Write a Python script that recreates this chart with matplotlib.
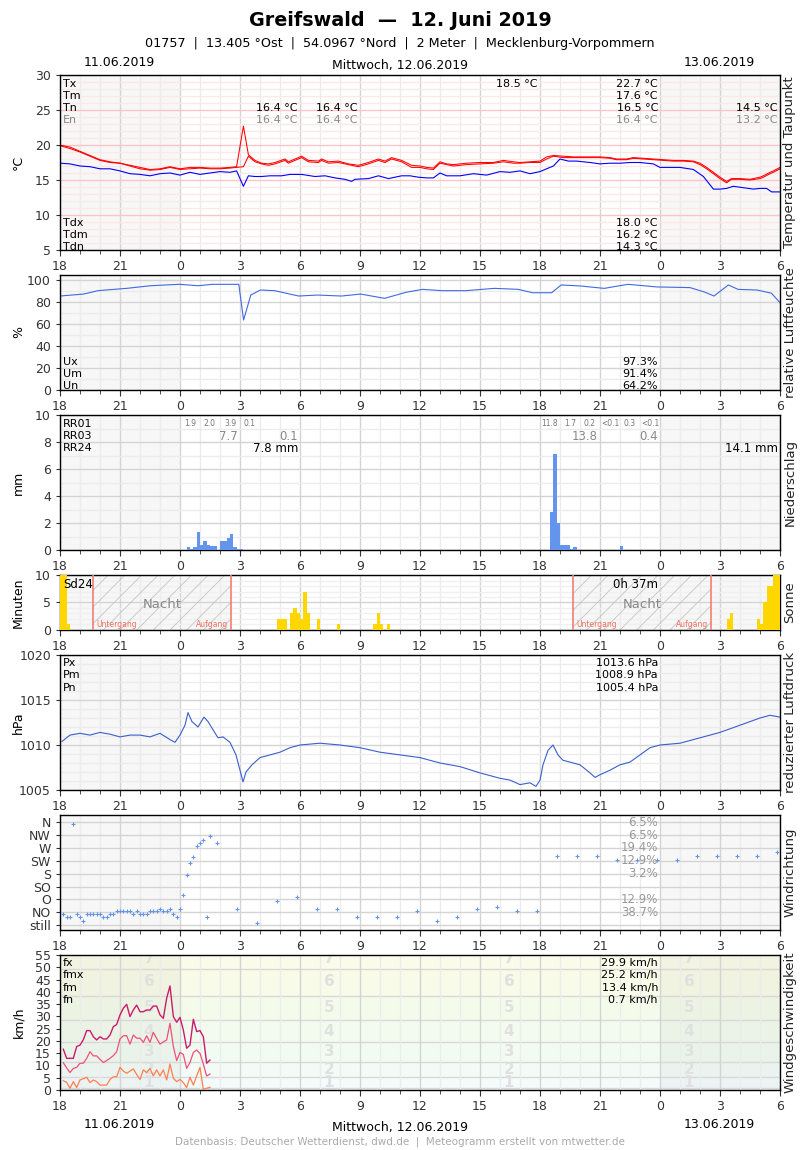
import matplotlib
matplotlib.use("Agg")
import matplotlib.pyplot as plt
import numpy as np

plt.rcParams['font.family'] = ['DejaVu Sans']
plt.rcParams['hatch.linewidth'] = 0.6
plt.rcParams['hatch.color'] = '#c4c4c4'

# x values: hours (or minutes) since 11.06.2019 18:00 UTC
hour_labels = ['18', '21', '0', '3', '6', '9', '12', '15', '18', '21', '0', '3', '6']

# temperature (two red curves) and dew point
t_hours = [0.0, 0.5, 1.0, 1.5, 2.0, 2.5, 3.0, 3.5, 4.0, 4.5, 5.0, 5.5, 6.0, 6.5, 7.0, 7.5, 8.0, 8.5, 8.83,
           9.17, 9.42, 9.75, 10.08, 10.42, 10.75, 11.25, 11.42, 11.75, 12.08, 12.42, 12.92, 13.08, 13.42,
           13.92, 14.42, 14.92, 15.42, 15.92, 16.25, 16.58, 17.08, 17.58, 18.0, 18.33, 18.67, 19.0, 19.33,
           19.67, 20.33, 21.0, 21.67, 22.17, 22.67, 23.0, 23.5, 24.0, 24.33, 24.67, 25.17, 25.67, 26.0,
           26.5, 27.0, 27.5, 27.83, 28.33, 28.67, 29.17, 29.67, 30.17, 30.67, 31.17, 31.67, 32.0, 32.33,
           32.67, 33.0, 33.33, 33.58, 34.0, 34.5, 35.0, 35.17, 35.5, 35.67, 36.0]
temp = [19.9, 19.5, 19.0, 18.4, 17.8, 17.5, 17.4, 17.0, 16.6, 16.4, 16.5, 16.8, 16.5, 16.6, 16.7, 16.6,
        16.6, 16.7, 16.8, 16.9, 18.4, 17.6, 17.3, 17.1, 17.3, 17.8, 17.4, 17.8, 18.2, 17.6, 17.5, 17.8,
        17.4, 17.5, 17.2, 16.9, 17.3, 17.8, 17.5, 18.0, 17.6, 16.8, 16.8, 16.6, 16.5, 17.4, 17.2, 17.0,
        17.2, 17.3, 17.4, 17.6, 17.4, 17.4, 17.5, 17.5, 18.0, 18.4, 18.2, 18.2, 18.2, 18.2, 18.2, 18.1,
        17.9, 17.9, 18.1, 18.0, 17.9, 17.8, 17.7, 17.7, 17.6, 17.2, 16.6, 15.9, 15.2, 14.6, 15.1, 15.1,
        15.0, 15.2, 15.4, 15.9, 16.1, 16.6]
temp_max = [20.0, 19.7, 19.1, 18.5, 17.9, 17.6, 17.4, 17.1, 16.8, 16.5, 16.6, 16.9, 16.6, 16.8, 16.8,
            16.7, 16.7, 16.8, 16.9, 22.7, 18.6, 17.8, 17.4, 17.3, 17.5, 18.0, 17.6, 18.0, 18.4, 17.8,
            17.7, 18.0, 17.6, 17.7, 17.3, 17.1, 17.5, 18.0, 17.7, 18.2, 17.8, 17.1, 17.0, 16.8, 16.7,
            17.6, 17.3, 17.2, 17.4, 17.5, 17.5, 17.8, 17.6, 17.5, 17.6, 17.7, 18.3, 18.5, 18.4, 18.3,
            18.3, 18.3, 18.3, 18.2, 18.0, 18.0, 18.2, 18.1, 18.0, 17.9, 17.8, 17.8, 17.7, 17.4, 16.8,
            16.1, 15.4, 14.8, 15.2, 15.2, 15.1, 15.4, 15.6, 16.1, 16.3, 16.8]
td_hours = [0.0, 0.5, 1.0, 1.5, 2.0, 2.5, 3.0, 3.5, 4.0, 4.5, 5.0, 5.5, 6.0, 6.5, 7.0, 7.5, 8.0, 8.5,
            8.83, 9.17, 9.42, 9.75, 10.08, 10.5, 11.08, 11.5, 12.08, 12.75, 13.25, 13.75, 14.25, 14.58,
            14.75, 15.42, 15.92, 16.42, 17.08, 17.5, 17.92, 18.33, 18.67, 19.0, 19.33, 20.0, 20.67,
            21.33, 22.0, 22.5, 23.0, 23.5, 24.0, 24.33, 24.67, 25.0, 25.42, 25.83, 26.5, 27.0, 27.5,
            28.0, 28.5, 29.0, 29.67, 30.0, 30.5, 31.0, 31.67, 32.17, 32.67, 33.0, 33.33, 33.67, 34.17,
            34.67, 35.0, 35.33, 35.58, 36.0]
dewpoint = [17.4, 17.3, 17.0, 16.9, 16.6, 16.6, 16.3, 15.9, 15.8, 15.6, 15.9, 16.0, 15.7, 16.1, 15.8,
            16.0, 16.2, 16.1, 16.3, 14.1, 15.6, 15.5, 15.5, 15.6, 15.6, 15.8, 15.8, 15.5, 15.6, 15.3,
            15.1, 14.8, 15.1, 15.2, 15.6, 15.2, 15.6, 15.6, 15.4, 15.3, 15.3, 16.0, 15.6, 15.6, 15.9,
            15.7, 16.2, 16.1, 16.3, 15.9, 16.2, 16.6, 17.0, 18.0, 17.7, 17.7, 17.5, 17.3, 17.4, 17.4,
            17.5, 17.5, 17.3, 16.8, 16.8, 16.8, 16.5, 15.5, 13.7, 13.7, 13.8, 14.1, 13.9, 13.7, 13.8,
            13.8, 13.3, 13.3]

# relative humidity
rh_hours = [0.0, 1.18, 1.9, 3.33, 4.53, 5.96, 6.91, 7.63, 8.94, 9.18, 9.54, 10.02, 10.73, 11.93, 12.88,
            14.07, 15.03, 16.23, 17.3, 18.13, 19.09, 20.29, 21.72, 22.91, 23.63, 24.58, 25.06, 26.0,
            27.21, 28.4, 29.83, 31.5, 32.22, 32.7, 33.42, 33.9, 34.85, 35.57, 36.0]
rh = [85.8, 87.6, 90.7, 92.8, 95.2, 96.5, 95.2, 96.5, 96.5, 63.9, 86.7, 91.3, 90.7, 85.8, 86.7, 85.8,
      87.6, 83.7, 89.2, 91.9, 90.7, 90.7, 92.8, 91.9, 88.8, 88.8, 95.9, 95.0, 92.8, 96.5, 94.1, 93.5,
      89.5, 85.8, 95.9, 91.9, 91.3, 88.4, 79.7]

# precipitation, 10 minute sums (start minute, mm)
rr_min = [380, 390, 400, 410, 420, 430, 440, 450, 460, 480, 490, 500, 510, 520, 530, 540,
          1470, 1480, 1490, 1500, 1510, 1520, 1530, 1540, 1680]
rr = [0.2, 0.1, 0.2, 1.3, 0.4, 0.7, 0.4, 0.3, 0.3, 0.7, 0.7, 0.9, 1.2, 0.25, 0.1, 0.05,
      2.8, 7.1, 2.0, 0.35, 0.35, 0.4, 0.1, 0.2, 0.3]
rr01_hours = [6.5, 7.5, 8.5, 9.5, 24.5, 25.5, 26.5, 27.5, 28.5, 29.5]
rr01_text = ['1.9', '2.0', '3.9', '0.1', '11.8', '1.7', '0.2', '<0.1', '0.3', '<0.1']
rr03_hours = [9, 12, 27, 30]
rr03_text = ['7.7', '0.1', '13.8', '0.4']
rr24_hours = [12, 36]
rr24_text = ['7.8 mm', '14.1 mm']

# sunshine, minutes per 10 minutes
sun_min = [0, 10, 20, 650, 660, 670, 690, 700, 710, 720, 730, 740, 770, 830, 940, 950, 960, 980,
           2000, 2010, 2090, 2100, 2110, 2120, 2130, 2140, 2150]
sun = [10, 10, 1, 2, 2, 2, 3, 4, 3, 2, 7, 3, 2, 1, 1, 3, 1, 1, 2, 3, 2, 1, 5, 8, 8, 10, 10]
sunset = [1.65, 25.67]
sunrise = [8.55, 32.57]

# pressure
p_hours = [0.1, 0.5, 1.0, 1.5, 2.0, 2.5, 3.0, 3.5, 4.0, 4.5, 5.0, 5.5, 5.75, 6.0, 6.25, 6.4, 6.6, 6.9,
           7.2, 7.4, 7.65, 7.9, 8.15, 8.5, 8.8, 9.0, 9.15, 9.3, 9.6, 10.0, 10.5, 11.0, 11.5, 12.0, 13.0,
           14.0, 15.0, 16.0, 17.0, 18.0, 19.0, 20.0, 21.0, 22.0, 22.5, 23.0, 23.5, 23.8, 24.0, 24.15,
           24.4, 24.65, 24.9, 25.15, 25.5, 26.0, 26.5, 26.75, 27.0, 27.5, 28.0, 28.5, 29.0, 29.5, 30.0,
           31.0, 32.0, 33.0, 34.0, 35.0, 35.5, 36.0]
pressure = [1010.4, 1011.1, 1011.3, 1011.1, 1011.4, 1011.2, 1010.9, 1011.1, 1011.1, 1010.9, 1011.3,
            1010.6, 1010.3, 1011.1, 1012.2, 1013.6, 1012.6, 1012.0, 1013.1, 1012.6, 1011.7, 1010.8,
            1010.9, 1010.3, 1008.9, 1007.2, 1005.9, 1007.0, 1007.8, 1008.6, 1008.9, 1009.2, 1009.7,
            1010.0, 1010.2, 1010.0, 1009.7, 1009.2, 1008.9, 1008.6, 1008.0, 1007.6, 1006.9, 1006.3,
            1006.1, 1005.6, 1005.8, 1005.4, 1006.1, 1007.8, 1009.4, 1010.0, 1008.9, 1008.3, 1008.1,
            1007.8, 1006.9, 1006.4, 1006.7, 1007.2, 1007.8, 1008.1, 1008.9, 1009.7, 1010.0, 1010.2,
            1010.8, 1011.4, 1012.2, 1013.0, 1013.3, 1013.1]

# wind direction (minute, degrees; 0 = still)
dir_min = [10, 20, 30, 40, 50, 60, 70, 80, 90, 100, 110, 120, 130, 140, 150, 160, 170, 180, 190, 200,
           210, 220, 230, 240, 250, 260, 270, 280, 290, 300, 310, 320, 330, 340, 350, 360, 370, 380,
           390, 400, 410, 420, 430, 440, 450, 470, 530, 590, 650, 710, 770, 830, 890, 950, 1010, 1070,
           1130, 1190, 1250, 1310, 1370, 1430, 1490, 1550, 1610, 1670, 1730, 1790, 1850, 1910, 1970,
           2030, 2090, 2150]
wind_dir = [38, 27, 27, 355, 38, 27, 16, 38, 38, 38, 38, 38, 27, 27, 38, 38, 49, 49, 49, 49,
            49, 38, 49, 38, 38, 38, 49, 49, 49, 58, 49, 49, 58, 38, 27, 58, 107, 177,
            216, 237, 275, 286, 296, 27, 313, 286, 58, 7, 86, 97, 58, 58, 27, 27, 27, 49,
            16, 27, 58, 65, 49, 49, 243, 243, 243, 226, 226, 226, 226, 243, 243,
            243, 243, 254]
dir_names = ['still', 'NO', 'O', 'SO', 'S', 'SW', 'W', 'NW', 'N']
dir_pct = ['', '38.7%', '12.9%', '', '3.2%', '12.9%', '19.4%', '6.5%', '6.5%']

# wind speed km/h, every 10 minutes
ff_min = [10, 20, 30, 40, 50, 60, 70, 80, 90, 100, 110, 120, 130, 140, 150, 160, 170, 180, 190, 200,
          210, 220, 230, 240, 250, 260, 270, 280, 290, 300, 310, 320, 330, 340, 350, 360, 370, 380,
          390, 400, 410, 420, 430, 440, 450]
fx = [16.6, 12.9, 12.9, 12.9, 17.7, 18.3, 20.5, 24.2, 24.2, 21.7, 20.4, 21.7, 20.8, 20.8, 22.4, 25.8,
      26.7, 30.6, 33.3, 34.9, 29.9, 32.6, 34.6, 31.9, 31.9, 32.6, 32.6, 34.2, 34.2, 30.6, 29.2, 37.4,
      42.4, 29.9, 27.6, 29.6, 24.4, 17.0, 18.3, 28.8, 23.8, 24.2, 21.7, 10.9, 12.2]
fmx = [11.1, 9.0, 7.1, 8.8, 9.2, 10.9, 10.9, 12.9, 15.6, 13.9, 13.9, 12.5, 11.2, 12.0, 12.9, 14.0,
       15.6, 20.8, 22.1, 22.1, 18.7, 22.4, 21.1, 21.1, 19.4, 22.1, 19.4, 23.5, 21.0, 18.7, 19.6, 20.4,
       27.2, 17.7, 12.0, 15.3, 14.5, 8.8, 11.2, 15.3, 16.3, 14.9, 10.6, 5.7, 6.5]
fm = [3.8, 3.1, 0.7, 3.4, 1.0, 4.1, 4.6, 5.2, 3.0, 4.1, 3.4, 2.0, 2.0, 2.0, 4.3, 5.4, 5.4, 9.2, 7.7,
      6.8, 7.7, 8.6, 6.3, 4.3, 8.2, 7.1, 8.8, 5.7, 8.2, 5.7, 8.2, 4.1, 10.6, 4.8, 3.4, 4.3, 3.0, 1.0,
      5.2, 2.0, 5.7, 9.2, 0.3, 0.7, 1.1]
bft_edges = [0, 1, 5.5, 11.5, 19.5, 28.5, 38.5, 49.5, 55]
bft_colors = ['#f5fbfd', '#f4fbfb', '#f3fbf7', '#f2fbf2', '#f2fbee', '#f4fbea', '#f7fbe8', '#fafbe9']
bft_label_y = [3.25, 8.5, 15.5, 24, 33.5, 44, 53.5]
bft_label_x = [4.45, 13.45, 22.45, 31.45]

W, H = 800, 1150
fig = plt.figure(figsize=(W / 100, H / 100), dpi=100)


def make_panel(top, bottom, ylim, yticks, yminor=None, ygrid='#d4d4d4', yminor_grid='#ececec'):
    ax = fig.add_axes([60 / W, 1 - bottom / H, 720 / W, (bottom - top) / H])
    ax.set_xlim(0, 36)
    ax.set_ylim(*ylim)
    ax.set_xticks(range(0, 37, 3))
    ax.set_xticklabels(hour_labels)
    ax.set_xticks(range(0, 37), minor=True)
    ax.set_yticks(yticks)
    if yminor is not None:
        ax.set_yticks(yminor, minor=True)
        ax.yaxis.grid(True, which='minor', color=yminor_grid, lw=1)
    ax.xaxis.grid(True, which='major', color='#d4d4d4', lw=1)
    ax.xaxis.grid(True, which='minor', color='#ececec', lw=1)
    if ygrid:
        ax.yaxis.grid(True, which='major', color=ygrid, lw=1)
    ax.set_axisbelow(True)
    ax.tick_params(which='both', labelsize=9, colors='#333333', direction='out')
    ax.tick_params(axis='x', which='major', length=4)
    ax.tick_params(axis='x', which='minor', length=3)
    ax.tick_params(axis='y', which='major', length=3)
    ax.tick_params(axis='y', which='minor', length=0)
    for sp in ax.spines.values():
        sp.set_color('black')
        sp.set_linewidth(1)
    for a, b in [(0, 6), (30, 36)]:
        ax.axvspan(a, b, color='#f7f7f7', lw=0, zorder=0)
    ax.yaxis.set_label_coords(-35 / 720, 0.5)
    return ax


def side_label(ax, s):
    ax.text(1 + 10 / 720, 0.5, s, rotation=90, transform=ax.transAxes, ha='center', va='center',
            fontsize=9.5, color='#222222')


def name(ax, off, s, bottom=False, color='black', size=8):
    ax.annotate(s, xy=(0, 0 if bottom else 1), xycoords='axes fraction',
                xytext=(3, off if bottom else -off), textcoords='offset pixels',
                ha='left', va='center', fontsize=size, color=color, zorder=6)


def value(ax, x, off, s, bottom=False, color='black', size=8, ha='right'):
    ax.annotate(s, xy=(x, 0 if bottom else 1), xycoords=ax.get_xaxis_transform(),
                xytext=(-2 if ha == 'right' else 0, off if bottom else -off), textcoords='offset pixels',
                ha=ha, va='center', fontsize=size, color=color, zorder=6)


# ---------------- temperature ----------------
ax = make_panel(75, 250, (5, 30), range(5, 31, 5), yminor=np.arange(5, 31, 1),
                ygrid='#ffc4c4', yminor_grid='#fde8e8')
ax.plot(t_hours, temp_max, color='red', lw=0.75)
ax.plot(t_hours, temp, color='red', lw=0.75)
ax.plot(td_hours, dewpoint, color='blue', lw=0.8)
ax.set_ylabel('°C', fontsize=9)
side_label(ax, 'Temperatur und Taupunkt')
for i, s in enumerate(['Tx', 'Tm', 'Tn']):
    name(ax, 9 + 12 * i, s)
name(ax, 45, 'En', color='#888888')
for i, s in enumerate(['Tdx', 'Tdm', 'Tdn']):
    name(ax, 27 - 12 * i, s, bottom=True)
value(ax, 24, 9, '18.5 °C')
value(ax, 30, 9, '22.7 °C')
value(ax, 30, 21, '17.6 °C')
for x, s in [(12, '16.4 °C'), (15, '16.4 °C'), (30, '16.5 °C'), (36, '14.5 °C')]:
    value(ax, x, 33, s)
for x, s in [(12, '16.4 °C'), (15, '16.4 °C'), (30, '16.4 °C'), (36, '13.2 °C')]:
    value(ax, x, 45, s, color='#888888')
for i, s in enumerate(['18.0 °C', '16.2 °C', '14.3 °C']):
    value(ax, 30, 27 - 12 * i, s, bottom=True)

# ---------------- humidity ----------------
ax = make_panel(275, 390, (0, 105), range(0, 101, 20), yminor=range(10, 101, 20))
ax.plot(rh_hours, rh, color='#4169e1', lw=0.8)
ax.set_ylabel('%', fontsize=9)
side_label(ax, 'relative Luftfeuchte')
for i, (n, s) in enumerate(zip(['Ux', 'Um', 'Un'], ['97.3%', '91.4%', '64.2%'])):
    name(ax, 28 - 12 * i, n, bottom=True)
    value(ax, 30, 28 - 12 * i, s, bottom=True)

# ---------------- precipitation ----------------
ax = make_panel(415, 550, (0, 10), range(0, 11, 2), yminor=range(1, 10, 2))
ax.bar(np.array(rr_min) / 60, rr, width=1 / 6, align='edge', color='#6495ed', lw=0, zorder=3)
ax.set_ylabel('mm', fontsize=9)
side_label(ax, 'Niederschlag')
for i, s in enumerate(['RR01', 'RR03', 'RR24']):
    name(ax, 9 + 12 * i, s)
for x, s in zip(rr01_hours, rr01_text):
    value(ax, x, 9, s, color='#777777', size=5.5, ha='center')
for x, s in zip(rr03_hours, rr03_text):
    value(ax, x, 21, s, color='#888888', size=8.5)
for x, s in zip(rr24_hours, rr24_text):
    value(ax, x, 33, s, size=8.5)

# ---------------- sunshine ----------------
ax = make_panel(575, 630, (0, 10), [0, 5, 10], yminor=[1, 2, 3, 4, 6, 7, 8, 9], yminor_grid='#f0f0f0')
for a, b in zip(sunset, sunrise):
    ax.axvspan(a, b, facecolor='#f7f7f7', lw=0, zorder=0)
    ax.axvspan(a, b, facecolor='none', edgecolor='#c4c4c4', hatch='//', lw=0, zorder=0.6)
    ax.axvline(a, color='#f08070', lw=1.2, zorder=3)
    ax.axvline(b, color='#f08070', lw=1.2, zorder=3)
    ax.text((a + b) / 2, 4.6, 'Nacht', ha='center', va='center', fontsize=9.5, color='#888888')
    ax.annotate('Untergang', xy=(a, 0), xytext=(3, 5), textcoords='offset pixels',
                ha='left', va='center', fontsize=5.5, color='#f07060')
    ax.annotate('Aufgang', xy=(b, 0), xytext=(-3, 5), textcoords='offset pixels',
                ha='right', va='center', fontsize=5.5, color='#f07060')
ax.bar(np.array(sun_min) / 60, sun, width=1 / 6, align='edge', color='#ffd700', lw=0, zorder=3)
ax.set_ylabel('Minuten', fontsize=9)
side_label(ax, 'Sonne')
name(ax, 9, 'Sd24', size=8.5)
value(ax, 30, 10, '0h 37m', size=8.5)

# ---------------- pressure ----------------
ax = make_panel(655, 790, (1005, 1020), range(1005, 1021, 5), yminor=range(1006, 1020))
ax.plot(p_hours, pressure, color='#3a5fcd', lw=0.8)
ax.set_ylabel('hPa', fontsize=9)
side_label(ax, 'reduzierter Luftdruck')
for i, (n, s) in enumerate(zip(['Px', 'Pm', 'Pn'], ['1013.6 hPa', '1008.9 hPa', '1005.4 hPa'])):
    name(ax, 8 + 12.5 * i, n)
    value(ax, 30, 8 + 12.5 * i, s)

# ---------------- wind direction ----------------
ax = make_panel(815, 930, (-17, 385), range(0, 361, 45))
ax.set_yticklabels(dir_names)
ax.plot(np.array(dir_min) / 60, wind_dir, '+', color='#6495ed', ms=3.5, mew=0.8, zorder=3)
side_label(ax, 'Windrichtung')
for d, s in zip(range(0, 361, 45), dir_pct):
    ax.annotate(s, xy=(30, d), xytext=(-2, 0), textcoords='offset pixels', ha='right', va='center',
                fontsize=8.5, color='#999999', zorder=6)

# ---------------- wind speed ----------------
ax = make_panel(955, 1090, (0, 55), range(0, 56, 5), ygrid=None)
for lo, hi, c in zip(bft_edges[:-1], bft_edges[1:], bft_colors):
    ax.axhspan(lo, hi, color=c, lw=0, zorder=0)
for a, b in [(0, 6), (30, 36)]:
    ax.axvspan(a, b, color='black', alpha=0.03, lw=0, zorder=0.1)
for e in bft_edges[1:-1]:
    ax.axhline(e, color='#d8d8d8', lw=1, zorder=0.5)
for x in bft_label_x:
    for n, y in enumerate(bft_label_y):
        ax.text(x, y, str(n + 1), ha='center', va='center', fontsize=11, fontweight='bold',
                color='#e0e0e0', zorder=0.7, clip_on=True)
hrs = np.array(ff_min) / 60
ax.plot(hrs, fx, color='#cc1a6e', lw=1, zorder=3)
ax.plot(hrs, fmx, color='#f0507a', lw=0.9, zorder=3)
ax.plot(hrs, fm, color='#ff7f50', lw=0.9, zorder=3)
ax.set_ylabel('km/h', fontsize=9)
side_label(ax, 'Windgeschwindigkeit')
for i, (n, s) in enumerate(zip(['fx', 'fmx', 'fm', 'fn'],
                               ['29.9 km/h', '25.2 km/h', '13.4 km/h', '0.7 km/h'])):
    name(ax, 8 + 12.3 * i, n)
    value(ax, 30, 8 + 12.3 * i, s)

# ---------------- header / footer ----------------
def ftext(x, y, s, **kw):
    fig.text(x / W, 1 - y / H, s, ha='center', va='center', **kw)


ftext(400, 20, 'Greifswald  —  12. Juni 2019', fontsize=13.8, fontweight='bold')
ftext(400, 43, '01757  |  13.405 °Ost  |  54.0967 °Nord  |  2 Meter  |  Mecklenburg-Vorpommern',
      fontsize=9.2)
for y1, y2 in [(62, 65), (1124, 1127)]:
    ftext(119, y1, '11.06.2019', fontsize=9)
    ftext(400, y2, 'Mittwoch, 12.06.2019', fontsize=9)
    ftext(719, y1, '13.06.2019', fontsize=9)
ftext(400, 1142, 'Datenbasis: Deutscher Wetterdienst, dwd.de  |  Meteogramm erstellt von mtwetter.de',
      fontsize=7.5, color='#aaaaaa')

fig.savefig('out.png', dpi=100)
